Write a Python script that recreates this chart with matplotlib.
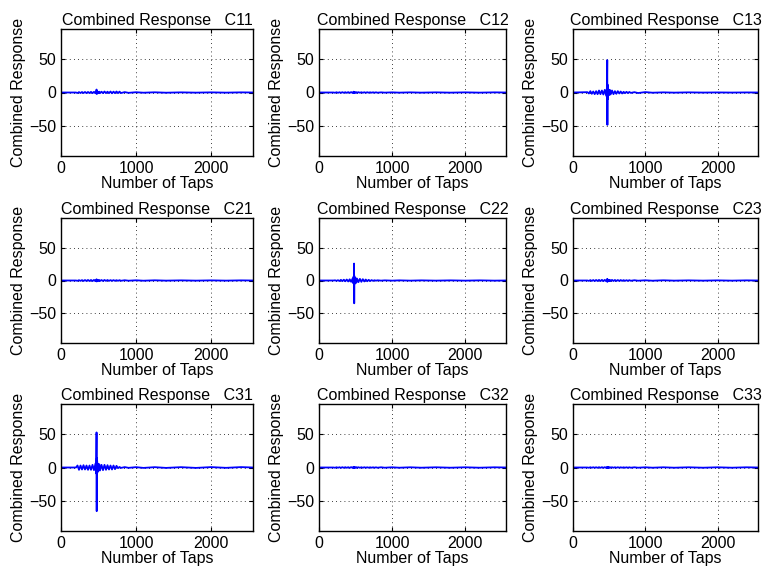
import numpy as np
import matplotlib.pyplot as plt

plt.rcParams['font.family'] = ['Liberation Sans', 'DejaVu Sans']
plt.rcParams['font.size'] = 11

taps = [0, 200, 220, 240, 260, 280, 300, 320, 340, 360, 380, 400, 420, 440, 460,
        470, 474, 476, 478, 480, 482, 484, 490, 500, 510, 520, 540, 560, 580, 600,
        620, 640, 660, 680, 700, 720, 740, 760, 780, 800, 850, 900, 1000, 1100,
        1250, 1400, 1600, 1800, 2000, 2200, 2400, 2560]

c11 = [0, 0, -0.8, 0.6, -0.8, 0.7, -0.8, 0.8, -0.9, 0.8, -0.9, 1, -1, 1, -1.2,
       1.5, 4.5, -2, 2, -1.5, 1.5, -1.2, 1, -1, 1.2, -1, 1.2, -1, 1.5, -1,
       1.2, -1, 1.5, -1.2, 1.3, -1, 1.5, -1, 1.3, -0.8, 0.6, -0.5, 0.4, -0.3,
       0.3, -0.3, 0.2, -0.2, 0.2, -0.2, 0.2, 0]
c12 = [0, 0, -0.4, 0.4, -0.5, 0.4, -0.5, 0.5, -0.5, 0.5, -0.6, 0.6, -0.6, 0.6, -0.7,
       0.8, 1.2, -1, 0.8, -0.7, 0.6, -0.6, 0.5, -0.5, 0.5, -0.5, 0.5, -0.4, 0.4, -0.4,
       0.4, -0.4, 0.4, -0.3, 0.3, -0.3, 0.3, -0.3, 0.3, -0.3, 0.2, -0.2, 0.2, -0.2,
       0.2, -0.2, 0.2, -0.2, 0.2, -0.2, 0.2, 0]
c13 = [0, 0.5, -1.5, 2, -2, 1.5, -2.5, 2, -2.5, 3, -2.5, 3, -3, 4, -5,
       8, 49, -49, 12, -10, 9, -7, 5, -4, 4, -3, 3, -2.5, 2, -2,
       2, -1.5, 1.5, -1.5, 1, -1, 1, -0.8, 0.8, -0.6, 0.5, -0.8, 0.6, -0.3,
       0.2, -0.2, 0.2, -0.1, 0.1, -0.1, 0.1, 0]
c21 = [0, 0, -0.5, 0.5, -0.6, 0.6, -0.7, 0.7, -0.7, 0.8, -0.8, 0.8, -0.9, 0.9, -1,
       1.2, 1.8, -1.5, 1.2, -1, 1, -0.9, 0.8, -0.8, 0.8, -0.7, 0.7, -0.7, 0.8, -0.6,
       0.7, -0.6, 0.6, -0.5, 0.6, -0.5, 0.5, -0.5, 0.5, -0.4, 0.4, -0.3, 0.3, -0.3,
       0.3, -0.2, 0.2, -0.2, 0.2, -0.2, 0.2, 0]
c22 = [0, 0, 0.3, -0.5, 0.5, -0.8, 1, -1, 1.2, -1.2, 1.5, -1.5, 1.8, -2, 3,
       -4, 6, -5, 8, 26, -35, 7, -5, 4, -3.5, 3, -2.5, 2.5, -2, 2,
       -1.5, 1.5, -1.2, 1, -0.8, 0.6, -0.5, 0.4, -0.3, 0.3, -0.2, 0.2, -0.2, 0.2,
       -0.2, 0.2, -0.2, 0.2, -0.2, 0.2, -0.2, 0]
c23 = [0, 0, -0.6, 0.6, -0.7, 0.7, -0.8, 0.8, -0.8, 0.9, -0.9, 1, -1, 1, -1.2,
       1.5, 2.5, -2, 1.5, -1.2, 1.2, -1, 1, -1, 1, -0.9, 0.9, -0.8, 0.8, -0.8,
       0.7, -0.7, 0.7, -0.6, 0.6, -0.6, 0.5, -0.5, 0.5, -0.4, 0.4, -0.3, 0.3, -0.3,
       0.3, -0.2, 0.2, -0.2, 0.2, -0.2, 0.2, 0]
c31 = [0, 0, 3, -3.5, 3, -3, 3.5, -3, 3, -3.5, 3, -3.5, 4, -4, 6,
       -9, 53, -66, 14, -12, 10, -8, 6, -5, 5, -4.5, 4, -4, 4, -3.5,
       3.5, -3, 3, -3, 3, -2.5, 2.5, -1, 0.8, -0.6, 0.6, -0.5, 0.5, -0.6,
       0.5, -0.6, 0.5, -0.6, 0.6, -0.5, 0.6, 0]
c32 = [0, 0, -0.4, 0.4, -0.4, 0.4, -0.5, 0.5, -0.5, 0.5, -0.5, 0.5, -0.6, 0.6, -0.6,
       0.7, 1, -0.9, 0.7, -0.6, 0.6, -0.5, 0.5, -0.5, 0.5, -0.4, 0.4, -0.4, 0.4, -0.4,
       0.4, -0.3, 0.3, -0.3, 0.3, -0.3, 0.3, -0.3, 0.3, -0.3, 0.3, -0.3, 0.3, -0.3,
       0.3, -0.3, 0.3, -0.3, 0.3, -0.3, 0.3, 0]
c33 = [0, 0, -0.4, 0.4, -0.4, 0.4, -0.4, 0.4, -0.5, 0.5, -0.5, 0.5, -0.5, 0.5, -0.6,
       0.6, 0.9, -0.8, 0.6, -0.6, 0.5, -0.5, 0.5, -0.5, 0.4, -0.4, 0.4, -0.4, 0.4, -0.4,
       0.4, -0.3, 0.3, -0.3, 0.3, -0.3, 0.3, -0.3, 0.3, -0.3, 0.3, -0.3, 0.3, -0.3,
       0.3, -0.3, 0.3, -0.3, 0.3, -0.3, 0.3, 0]

names = ['C11', 'C12', 'C13', 'C21', 'C22', 'C23', 'C31', 'C32', 'C33']
series = [c11, c12, c13, c21, c22, c23, c31, c32, c33]

W, H = 762, 572
fig = plt.figure(figsize=(W / 100, H / 100), dpi=100)

# axes boxes in pixels: (left, right) per column, (top, bottom) per row
cols = [(61, 253), (319, 506), (573, 758)]
rows = [(29, 156), (218, 343), (404, 531)]

for k in range(9):
    r, c = divmod(k, 3)
    l, rr = cols[c]
    t, b = rows[r]
    ax = fig.add_axes([l / W, 1 - b / H, (rr - l) / W, (b - t) / H])
    ax.plot(taps, series[k], color='blue', lw=1.3)
    ax.set_xlim(0, 2560)
    ax.set_ylim(-96, 96)
    ax.set_xticks([0, 1000, 2000])
    ax.set_yticks([-50, 0, 50])
    ax.grid(True, color='black', ls=(0, (1, 4)), lw=0.6)
    ax.tick_params(direction='in', length=3, top=True, right=True, width=0.8,
                   labelsize=11.5)
    for s in ax.spines.values():
        s.set_linewidth(1.0)
    ax.set_title('Combined Response   ' + names[k], fontsize=11.5, pad=3)
    ax.set_xlabel('Number of Taps', fontsize=11.5, labelpad=0)
    ax.set_ylabel('Combined Response', fontsize=11.5, labelpad=2)

fig.savefig('out.png', dpi=100)
